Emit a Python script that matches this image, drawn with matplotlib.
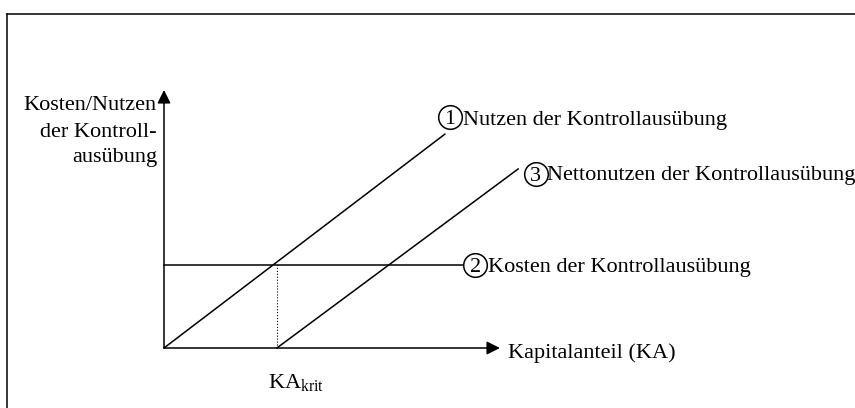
import matplotlib as mpl
mpl.use('Agg')
import matplotlib.pyplot as plt
from matplotlib.lines import Line2D

plt.rc('font', family='Liberation Serif', size=16)
plt.rc('mathtext', fontset='custom', rm='Liberation Serif', it='Liberation Serif')

# values (axis length = 1 in both directions)
nutzen_x = [0.0, 0.836]
nutzen_y = [0.0, 0.829]
netto_x = [0.336, 1.054]
netto_y = [0.0, 0.694]
kosten_x = [0.0, 0.89]
kosten_y = [0.322, 0.322]
ka_krit = 0.336

labels = ["Nutzen der Kontrollausübung",
          "Kosten der Kontrollausübung",
          "Nettonutzen der Kontrollausübung"]
circle_x = [0.851, 0.926, 1.106]
circle_y = [0.897, 0.322, 0.676]
label_x = [0.890, 0.965, 1.140]
label_y = [0.864, 0.296, 0.651]
ylabel_lines = ["Kosten/Nutzen", "der Kontroll-", "ausübung"]
ylabel_y = [0.922, 0.818, 0.721]

W, H = 855, 408
fig = plt.figure(figsize=(W / 100, H / 100), dpi=100)
ax = fig.add_axes([164 / W, (H - 348) / H, 336 / W, 258 / H])
ax.set_xlim(0, 1)
ax.set_ylim(0, 1)
ax.axis('off')

# frame, open to the right and bottom
fig.add_artist(Line2D([7 / W, 7 / W], [0, 1 - 14 / H], color='black', lw=1.1, transform=fig.transFigure))
fig.add_artist(Line2D([7 / W, 1], [1 - 14 / H, 1 - 14 / H], color='black', lw=1.1, transform=fig.transFigure))

arrow = dict(arrowstyle='-|>', mutation_scale=20, lw=1.1, color='black', shrinkA=0, shrinkB=0)
ax.annotate('', xy=(1, 0), xytext=(0, 0), arrowprops=arrow, annotation_clip=False)
ax.annotate('', xy=(0, 1), xytext=(0, 0), arrowprops=arrow, annotation_clip=False)

ax.plot(nutzen_x, nutzen_y, color='black', lw=1.1, clip_on=False)
ax.plot(netto_x, netto_y, color='black', lw=1.1, clip_on=False)
ax.plot(kosten_x, kosten_y, color='black', lw=1.1, clip_on=False)
ax.plot([ka_krit, ka_krit], [0, kosten_y[0]], color='black', lw=0.8, ls=':', clip_on=False)

for i in range(3):
    ax.plot(circle_x[i], circle_y[i], 'o', ms=17, mfc='white', mec='black', mew=1.1, clip_on=False)
    ax.text(circle_x[i], circle_y[i] - 0.029, str(i + 1), ha='center', va='baseline')
    ax.text(label_x[i], label_y[i], labels[i], ha='left', va='baseline')

for line, yy in zip(ylabel_lines, ylabel_y):
    ax.text(-0.021, yy, line, ha='right', va='baseline')

ax.text(1.024, -0.039, "Kapitalanteil (KA)", ha='left', va='baseline')
ax.text(0.310, -0.155, r"$\mathrm{KA}_{\mathrm{krit}}$", ha='left', va='baseline')

plt.savefig("out.png", dpi=100)
